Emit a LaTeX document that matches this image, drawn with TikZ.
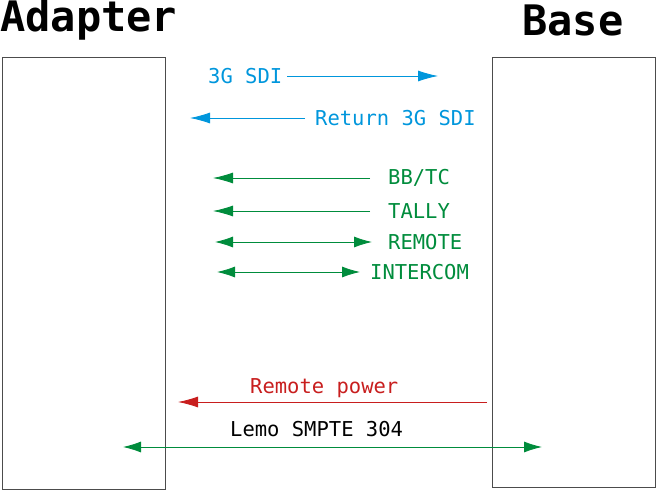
\documentclass[tikz,border=0pt]{standalone}
\usepackage{fontspec}
\setmainfont{DejaVu Sans Mono}
\usetikzlibrary{arrows.meta}
\definecolor{cblue}{RGB}{0,150,220}
\definecolor{cgreen}{RGB}{0,140,60}
\definecolor{cred}{RGB}{200,30,30}
\begin{document}
\begin{tikzpicture}[x=1pt,y=-1pt,
  box/.style={draw=black!70,line width=0.8pt},
  lab/.style={anchor=west,inner sep=0pt,font=\fontsize{20.5}{20.5}\selectfont},
  ttl/.style={anchor=west,inner sep=0pt,font=\fontsize{42}{42}\selectfont\bfseries},
  arr/.style={line width=0.8pt,-{Latex[length=20pt,width=11pt]}},
  darr/.style={line width=0.8pt,{Latex[length=18pt,width=11pt]}-{Latex[length=18pt,width=11pt]}}]
\useasboundingbox (0,0) rectangle (657,490);
\draw[box] (2,57) rectangle (165,489);
\draw[box] (492,57) rectangle (655,487);
\node[ttl] (tA) at (0,20) {Adapter};
\node[ttl] (tB) at (522,20) {Base};
\node[lab,text=cblue] (l1) at (208,76) {3G SDI};
\coordinate (a1s) at (287,76); \coordinate (a1e) at (438,76);
\draw[arr,cblue] (a1s) -- (a1e);
\node[lab,text=cblue] (l2) at (315,118) {Return 3G SDI};
\coordinate (a2s) at (305,118); \coordinate (a2e) at (190,118);
\draw[arr,cblue] (a2s) -- (a2e);
\node[lab,text=cgreen] (l3) at (388,178) {BB/TC};
\coordinate (a3s) at (370,178); \coordinate (a3e) at (213,178);
\draw[arr,cgreen] (a3s) -- (a3e);
\node[lab,text=cgreen] (l4) at (388,211) {TALLY};
\coordinate (a4s) at (370,211); \coordinate (a4e) at (213,211);
\draw[arr,cgreen] (a4s) -- (a4e);
\node[lab,text=cgreen] (l5) at (388,242) {REMOTE};
\coordinate (a5s) at (215,242); \coordinate (a5e) at (372,242);
\draw[darr,cgreen] (a5s) -- (a5e);
\node[lab,text=cgreen] (l6) at (370,272) {INTERCOM};
\coordinate (a6s) at (217,272); \coordinate (a6e) at (360,272);
\draw[darr,cgreen] (a6s) -- (a6e);
\node[lab,text=cred] (l7) at (250,388) {Remote power};
\coordinate (a7s) at (487,402); \coordinate (a7e) at (178,402);
\draw[arr,cred] (a7s) -- (a7e);
\node[lab,text=black] (l8) at (230,429) {Lemo SMPTE 304};
\coordinate (a8s) at (123,447); \coordinate (a8e) at (542,447);
\draw[darr,cgreen] (a8s) -- (a8e);
\end{tikzpicture}
\end{document}
